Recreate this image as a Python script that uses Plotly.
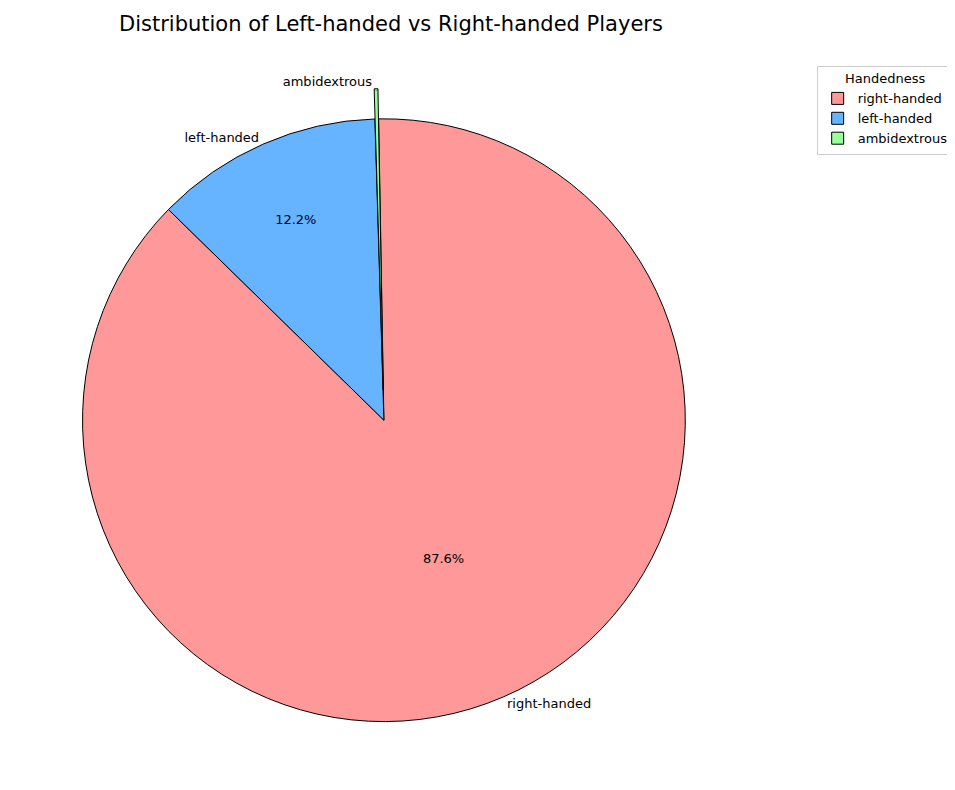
import plotly.graph_objects as go

labels = ["right-handed", "left-handed", "ambidextrous"]
shares = [87.6, 12.2, 0.2]
colors = ["#ff9999", "#66b3ff", "#99ff99"]
pulls = [0, 0, 0.1]

dom = dict(x=[0.02, 0.74], y=[0.06, 0.92])

fig = go.Figure()
# percentages inside the slices
fig.add_trace(go.Pie(
    labels=labels, values=shares, sort=False, direction="clockwise",
    rotation=-1, pull=pulls, domain=dom,
    marker=dict(colors=colors, line=dict(color="black", width=1)),
    texttemplate="%{percent:.1%}", textposition="inside",
    insidetextorientation="horizontal",
    textfont=dict(color="black", size=13), hoverinfo="label+percent",
))
# labels outside, on a transparent copy
fig.add_trace(go.Pie(
    labels=labels, values=shares, sort=False, direction="clockwise",
    rotation=-1, pull=pulls, domain=dom, showlegend=False,
    marker=dict(colors=["rgba(0,0,0,0)"] * 3, line=dict(width=0)),
    texttemplate="%{label}", textposition="outside",
    textfont=dict(color="black", size=13), hoverinfo="skip",
))

fig.update_layout(
    width=955, height=790,
    margin=dict(l=0, r=0, t=0, b=0),
    paper_bgcolor="white",
    font=dict(family="DejaVu Sans", color="black"),
    title=dict(text="Distribution of Left-handed vs Right-handed Players",
               x=0.401, xanchor="center", y=0.99, yanchor="top",
               font=dict(size=21)),
    legend=dict(title=dict(text="Handedness", side="top center", font=dict(size=13)),
                x=0.99, xanchor="right",
                y=0.95, yanchor="top", bordercolor="#cccccc", borderwidth=1,
                font=dict(size=13)),
)

fig.write_html("out.html")
